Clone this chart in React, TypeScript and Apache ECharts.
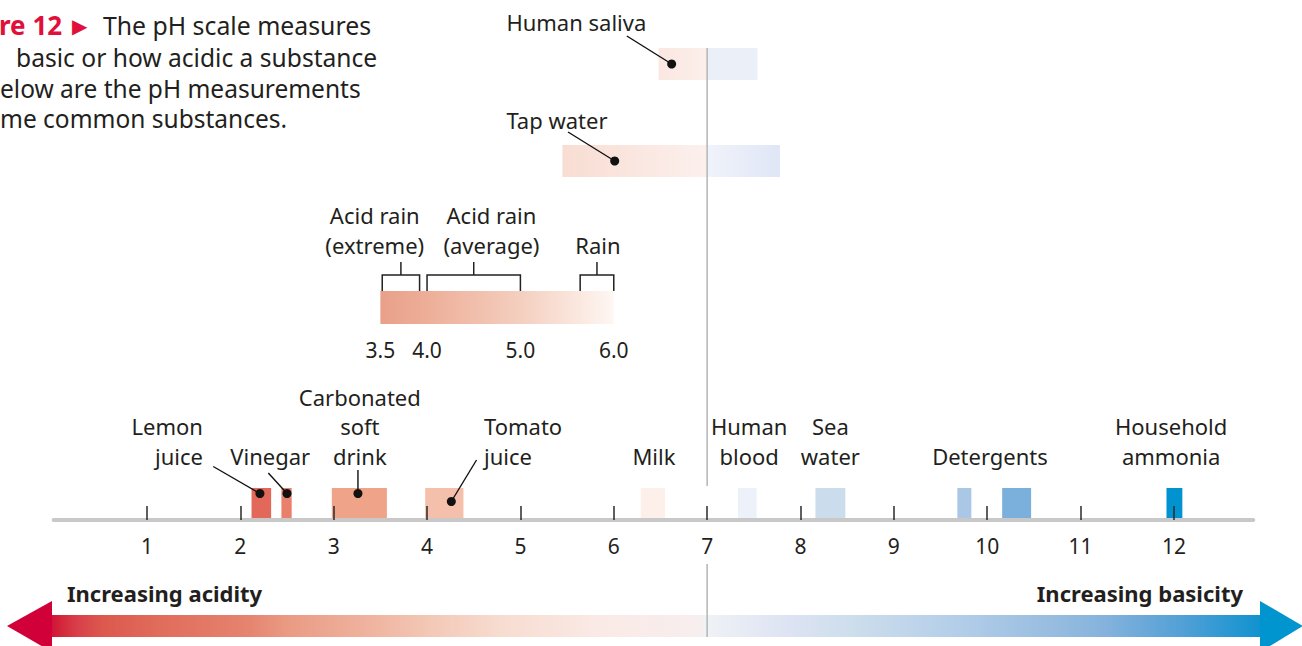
import React, { useEffect, useRef } from 'react';
import * as echarts from 'echarts';

// ---------- data ----------
const tickValues = [1, 2, 3, 4, 5, 6, 7, 8, 9, 10, 11, 12];
const axisMin = 0;
const axisMax = 12.85;
const neutralPH = 7;

const substanceNames = ['Lemon juice', 'Vinegar', 'Carbonated soft drink', 'Tomato juice', 'Milk', 'Human blood', 'Sea water', 'Detergents', 'Detergents', 'Household ammonia'];
const substanceLow = [2.12, 2.44, 2.98, 3.98, 6.29, 7.33, 8.16, 9.68, 10.16, 11.92];
const substanceHigh = [2.33, 2.55, 3.57, 4.39, 6.55, 7.53, 8.48, 9.83, 10.47, 12.09];

const pointedNames = ['Lemon juice', 'Vinegar', 'Carbonated soft drink', 'Tomato juice'];
const pointedDotPH = [2.21, 2.5, 3.26, 4.26];

const upperNames = ['Human saliva', 'Tap water'];
const upperLow = [6.48, 5.45];
const upperHigh = [7.54, 7.78];
const upperDotPH = [6.62, 6.01];

const rainRange = [3.5, 6.0];
const rainValueLabels = [3.5, 4.0, 5.0, 6.0];
const rainGroupNames = ['Acid rain\n(extreme)', 'Acid rain\n(average)', 'Rain'];
const rainGroupLow = [3.52, 4.0, 5.64];
const rainGroupHigh = [3.92, 5.0, 6.0];

// ---------- layout / style ----------
const FONT = "'Noto Sans', 'DejaVu Sans', sans-serif";
const INK = '#231f20';
const FS = 22;
const LH = 29.5;

const substanceColors = ['#e2685a', '#e8806b', '#efa48a', '#f4bfab', '#fdf0eb', '#edf1f9', '#cbdced', '#aac8e6', '#7bb0dc', '#0193cf'];
const MAIN_TOP = 488;
const MAIN_BOTTOM = 518;

const mainLabelText = ['Lemon\njuice', 'Vinegar', 'Carbonated\nsoft\ndrink', 'Tomato\njuice', 'Milk', 'Human\nblood', 'Sea\nwater', 'Detergents', 'Household\nammonia'];
const mainLabelPH = [1.6, 2.32, 3.28, 4.61, 6.43, 7.45, 8.32, 10.03, 11.97];
const mainLabelAlign = ['right', 'center', 'center', 'left', 'center', 'center', 'center', 'center', 'center'];
const MAIN_LABEL_BOTTOM = 470.5;

const pointerFromPH = [1.71, 2.3, 3.26, 4.53];
const pointerFromY = [466.5, 473, 470, 460];
const pointerDotY = [493.5, 493.5, 493.5, 501.5];

const upperTop = [48, 145];
const upperBottom = [80, 177];
const upperDotY = [64, 161];
const upperFromPH = [6.14, 5.51];
const upperFromY = [36, 132];
const upperLabelPH = [4.85, 4.85];
const upperLabelY = [22, 120];
const upperStops = [
  [[0, '#fbe7e1'], [0.485, '#fcefeb'], [0.487, '#eaeff8'], [1, '#ebf0f8']],
  [[0, '#f8ddd3'], [0.66, '#fcf0ed'], [0.665, '#f0f3fa'], [1, '#dfe6f6']],
];

const RAIN_TOP = 291;
const RAIN_BOTTOM = 324;
const BRACKET_TOP = 275;
const STEM_TOP = 262;
const rainStemPH = [3.72, 4.5, 5.82];
const rainLabelPH = [3.44, 4.69, 5.83];
const RAIN_LABEL_BOTTOM = 259.5;
const RAIN_VALUE_Y = 350;

const GRID_LEFT = 53.6;
const GRID_RIGHT = 48.7;
const AXIS_Y = 520;

const arrowStops: [number, string][] = [
  [0, '#d0103a'], [0.011, '#d42a3c'], [0.023, '#d8404a'], [0.043, '#dc584d'], [0.089, '#e06c5a'],
  [0.164, '#e5846f'], [0.197, '#ea9b84'], [0.263, '#efb39f'], [0.313, '#f3c8b6'], [0.371, '#f7dcd0'],
  [0.454, '#faeae6'], [0.536, '#f7eeee'], [0.542, '#eff2f5'], [0.603, '#dfe4f3'], [0.661, '#cddeec'],
  [0.743, '#b5cfe9'], [0.826, '#98bde0'], [0.868, '#86b3dd'], [0.934, '#52a0d6'], [1, '#0f92cf'],
];

export default function App() {
  const ref = useRef<HTMLDivElement>(null);
  useEffect(() => {
    if (!ref.current) return;
    const chart = echarts.init(ref.current, null, { renderer: 'svg' });
    const textStyle = (extra: any) => ({
      fill: INK,
      fontSize: FS,
      fontFamily: FONT,
      lineHeight: LH,
      ...extra,
    });
    const mid = { verticalAlign: 'middle', textVerticalAlign: 'middle' };
    const cap = { lineHeight: 26, ...mid };

    const option: any = {
      animation: false,
      backgroundColor: '#ffffff',
      grid: { left: GRID_LEFT, right: GRID_RIGHT, top: 0, bottom: 646 - AXIS_Y },
      xAxis: {
        type: 'value',
        min: axisMin,
        max: axisMax,
        z: 5,
        axisLine: { show: true, lineStyle: { color: '#c8c8c8', width: 4 } },
        axisTick: { show: true, inside: true, length: 14, customValues: tickValues, lineStyle: { color: '#2a2a2a', width: 1.5 } },
        axisLabel: { customValues: tickValues, fontSize: 21, color: INK, fontFamily: FONT, margin: 15 },
        splitLine: { show: false },
      },
      yAxis: { type: 'value', min: 0, max: 1, show: false },
      graphic: [
        {
          type: 'rect',
          shape: { x: 50, y: 615, width: 1212, height: 22 },
          style: { fill: new echarts.graphic.LinearGradient(0, 0, 1, 0, arrowStops.map((s) => ({ offset: s[0], color: s[1] }))) },
        },
        { type: 'polygon', shape: { points: [[7, 626], [52, 601], [52, 652]] }, style: { fill: '#d10039' } },
        { type: 'polygon', shape: { points: [[1303, 626], [1260, 601], [1260, 652]] }, style: { fill: '#0095cf' } },
        { type: 'text', style: textStyle({ text: 'Increasing acidity', x: 67, y: 593, fontWeight: 'bold', fontSize: 22, ...mid }) },
        { type: 'text', style: textStyle({ text: 'Increasing basicity', x: 1243, y: 593, fontWeight: 'bold', fontSize: 22, align: 'right', textAlign: 'right', ...mid }) },
        // caption (clipped at the left edge in the reference)
        { type: 'text', style: textStyle({ text: 're 12', x: -1, y: 25, fontWeight: 'bold', fill: '#e0103a', fontSize: 26, ...cap }) },
        { type: 'text', style: textStyle({ text: '▶', x: 72, y: 25, fill: '#e0103a', fontSize: 20, ...cap }) },
        { type: 'text', style: textStyle({ text: 'The pH scale measures', x: 103, y: 25, fontSize: 24.8, ...cap }) },
        { type: 'text', style: textStyle({ text: 'basic or how acidic a substance', x: 16, y: 57, fontSize: 24.6, ...cap }) },
        { type: 'text', style: textStyle({ text: 'elow are the pH measurements', x: 0, y: 88, fontSize: 24.5, ...cap }) },
        { type: 'text', style: textStyle({ text: 'me common substances.', x: 0, y: 118, fontSize: 24.5, ...cap }) },
      ],
      series: [
        {
          type: 'custom',
          z: 1,
          data: [[neutralPH]],
          renderItem: (_p: any, api: any) => {
            const x = api.coord([api.value(0), 0])[0];
            return {
              type: 'group',
              children: [
                { type: 'line', shape: { x1: x, y1: 48, x2: x, y2: 486 }, style: { stroke: '#b5b5b5', lineWidth: 1.5 } },
                { type: 'line', shape: { x1: x, y1: 564, x2: x, y2: 637 }, style: { stroke: '#b5b5b5', lineWidth: 1.5 } },
              ],
            };
          },
        },
        {
          type: 'custom',
          z: 0,
          data: upperNames.map((n, i) => [upperLow[i], upperHigh[i], upperDotPH[i], i]),
          renderItem: (_p: any, api: any) => {
            const i = api.value(3);
            const x0 = api.coord([api.value(0), 0])[0];
            const x1 = api.coord([api.value(1), 0])[0];
            const xd = api.coord([api.value(2), 0])[0];
            const xf = api.coord([upperFromPH[i], 0])[0];
            const xl = api.coord([upperLabelPH[i], 0])[0];
            return {
              type: 'group',
              children: [
                {
                  type: 'rect',
                  shape: { x: x0, y: upperTop[i], width: x1 - x0, height: upperBottom[i] - upperTop[i] },
                  style: { fill: new echarts.graphic.LinearGradient(0, 0, 1, 0, upperStops[i].map((s: any) => ({ offset: s[0], color: s[1] }))) },
                },
                { type: 'line', shape: { x1: xf, y1: upperFromY[i], x2: xd, y2: upperDotY[i] }, style: { stroke: '#111', lineWidth: 1.4 } },
                { type: 'circle', shape: { cx: xd, cy: upperDotY[i], r: 4.5 }, style: { fill: '#111' } },
                { type: 'text', style: textStyle({ text: upperNames[i], x: xl, y: upperLabelY[i], ...mid }) },
              ],
            };
          },
        },
        {
          type: 'custom',
          z: 0,
          data: [[rainRange[0], rainRange[1]]],
          renderItem: (_p: any, api: any) => {
            const x0 = api.coord([api.value(0), 0])[0];
            const x1 = api.coord([api.value(1), 0])[0];
            const children: any[] = [
              {
                type: 'rect',
                shape: { x: x0, y: RAIN_TOP, width: x1 - x0, height: RAIN_BOTTOM - RAIN_TOP },
                style: {
                  fill: new echarts.graphic.LinearGradient(0, 0, 1, 0, [
                    { offset: 0, color: '#e9a08a' },
                    { offset: 0.2, color: '#edae98' },
                    { offset: 0.6, color: '#f4cfbf' },
                    { offset: 1, color: '#fef7f3' },
                  ]),
                },
              },
            ];
            rainGroupNames.forEach((name, i) => {
              const a = api.coord([rainGroupLow[i], 0])[0];
              const b = api.coord([rainGroupHigh[i], 0])[0];
              const s = api.coord([rainStemPH[i], 0])[0];
              const l = api.coord([rainLabelPH[i], 0])[0];
              children.push({
                type: 'polyline',
                shape: { points: [[a, RAIN_TOP], [a, BRACKET_TOP], [b, BRACKET_TOP], [b, RAIN_TOP]] },
                style: { stroke: '#222', lineWidth: 1.5, fill: null },
              });
              children.push({ type: 'line', shape: { x1: s, y1: BRACKET_TOP, x2: s, y2: STEM_TOP }, style: { stroke: '#222', lineWidth: 1.5 } });
              children.push({ type: 'text', style: textStyle({ text: name, x: l, y: RAIN_LABEL_BOTTOM, align: 'center', textAlign: 'center', verticalAlign: 'bottom', textVerticalAlign: 'bottom' }) });
            });
            rainValueLabels.forEach((v) => {
              const x = api.coord([v, 0])[0];
              children.push({ type: 'text', style: textStyle({ text: v.toFixed(1), x, y: RAIN_VALUE_Y, fontSize: 21, align: 'center', textAlign: 'center', ...mid }) });
            });
            return { type: 'group', children };
          },
        },
        {
          type: 'custom',
          z: 0,
          data: substanceNames.map((n, i) => [substanceLow[i], substanceHigh[i], i]),
          renderItem: (_p: any, api: any) => {
            const i = api.value(2);
            const x0 = api.coord([api.value(0), 0])[0];
            const x1 = api.coord([api.value(1), 0])[0];
            return {
              type: 'rect',
              shape: { x: x0, y: MAIN_TOP, width: x1 - x0, height: MAIN_BOTTOM - MAIN_TOP },
              style: { fill: substanceColors[i] },
            };
          },
        },
        {
          type: 'custom',
          z: 1,
          data: pointedNames.map((n, i) => [pointedDotPH[i], i]),
          renderItem: (_p: any, api: any) => {
            const i = api.value(1);
            const xd = api.coord([api.value(0), 0])[0];
            const xf = api.coord([pointerFromPH[i], 0])[0];
            return {
              type: 'group',
              children: [
                { type: 'line', shape: { x1: xf, y1: pointerFromY[i], x2: xd, y2: pointerDotY[i] }, style: { stroke: '#111', lineWidth: 1.4 } },
                { type: 'circle', shape: { cx: xd, cy: pointerDotY[i], r: 4.5 }, style: { fill: '#111' } },
              ],
            };
          },
        },
        {
          type: 'custom',
          z: 1,
          data: mainLabelText.map((t, i) => [mainLabelPH[i], i]),
          renderItem: (_p: any, api: any) => {
            const i = api.value(1);
            const x = api.coord([api.value(0), 0])[0];
            return {
              type: 'text',
              style: textStyle({ text: mainLabelText[i], x, y: MAIN_LABEL_BOTTOM, align: mainLabelAlign[i], textAlign: mainLabelAlign[i], verticalAlign: 'bottom', textVerticalAlign: 'bottom' }),
            };
          },
        },
      ],
    };
    chart.setOption(option);
    return () => chart.dispose();
  }, []);
  return <div ref={ref} style={{ position: 'fixed', left: 0, top: 0, width: 1302, height: 646 }} />;
}
